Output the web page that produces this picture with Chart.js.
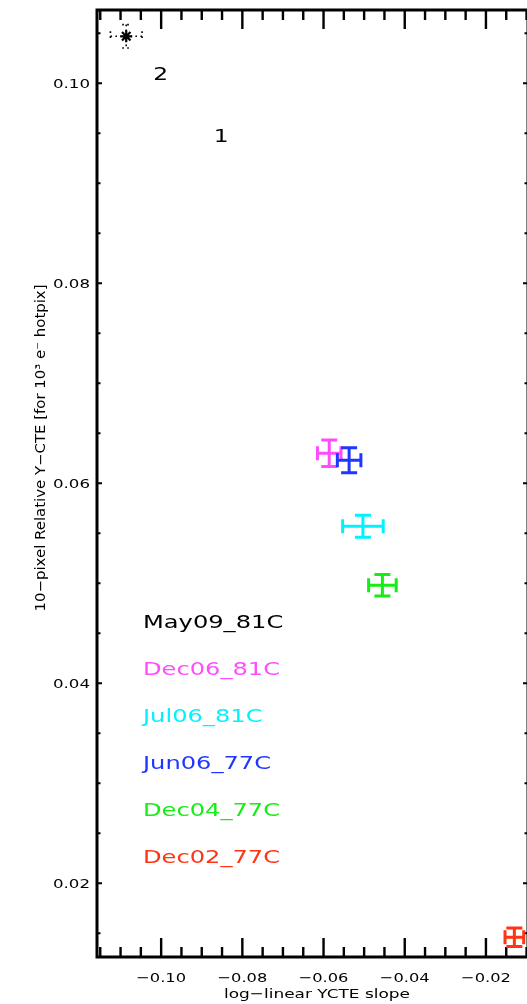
<!DOCTYPE html>
<html>
<head>
<meta charset="utf-8">
<script src="https://cdn.jsdelivr.net/npm/chart.js@4/dist/chart.umd.min.js"></script>
<style>
  html, body { margin: 0; padding: 0; background: #fff; overflow: hidden; }
  #wrap { width: 527px; height: 1004px; overflow: hidden; position: relative; }
  canvas { display: block; }
</style>
</head>
<body>
<div id="wrap"><canvas id="c" width="540" height="1004"></canvas></div>
<script>
// Observing runs: name, colour, slope, relative CTE and their 1-sigma errors
const seriesNames  = ['May09_81C', 'Dec06_81C', 'Jul06_81C', 'Jun06_77C', 'Dec04_77C', 'Dec02_77C'];
const seriesColors = ['#000000', '#ff4cff', '#00f2ff', '#1e36ff', '#14ee14', '#ff3412'];
const slopeX   = [-0.1086, -0.0586, -0.0503, -0.0537, -0.0455, -0.0130];
const relCte   = [0.1047, 0.0630, 0.0557, 0.0623, 0.0498, 0.0146];
const slopeErr = [0.0039, 0.0029, 0.0050, 0.0029, 0.0034, 0.0023];
const cteErr   = [0.00117, 0.00133, 0.0011, 0.00125, 0.00108, 0.00092];

// Axis ticks
const xTickValues = [-0.10, -0.08, -0.06, -0.04, -0.02];
const xTickLabels = ['\u22120.10', '\u22120.08', '\u22120.06', '\u22120.04', '\u22120.02'];
const xMinorTicks = [-0.115, -0.11, -0.105, -0.095, -0.09, -0.085, -0.075, -0.07, -0.065,
                     -0.055, -0.05, -0.045, -0.035, -0.03, -0.025, -0.015, -0.01];
const yTickValues = [0.02, 0.04, 0.06, 0.08, 0.10];
const yTickLabels = ['0.02', '0.04', '0.06', '0.08', '0.10'];
const yMinorTicks = [0.015, 0.025, 0.03, 0.035, 0.045, 0.05, 0.055, 0.065, 0.07, 0.075,
                     0.085, 0.09, 0.095, 0.105];

// Point-number notes next to the May09 point
const noteTexts = ['2', '1'];
const noteX = [-0.1001, -0.0852];
const noteY = [0.10033, 0.09416];

const xTitle = 'log\u2212linear YCTE slope';
const yTitle = '10\u2212pixel Relative Y\u2212CTE [for 10\u00b3 e\u207b hotpix]';

const FONT = '"DejaVu Sans", sans-serif';

function wideText(ctx, text, x, y, size, sx, align, color) {
  ctx.save();
  ctx.font = size + 'px ' + FONT;
  ctx.fillStyle = color || '#000';
  ctx.textBaseline = 'alphabetic';
  ctx.textAlign = align;
  ctx.translate(x, y);
  ctx.scale(sx, 1);
  ctx.fillText(text, 0, 0);
  ctx.restore();
}

// Box frame with inward ticks on all four sides
const framePlugin = {
  id: 'frame',
  beforeDatasetsDraw(chart) {
    const { ctx, chartArea: a, scales: { x, y } } = chart;
    ctx.save();
    ctx.strokeStyle = '#000';
    ctx.lineCap = 'butt';
    // x ticks (long, on bottom and top)
    ctx.lineWidth = 2.4;
    const xt = (v, len) => {
      const px = x.getPixelForValue(v);
      ctx.beginPath();
      ctx.moveTo(px, a.bottom); ctx.lineTo(px, a.bottom - len);
      ctx.moveTo(px, a.top); ctx.lineTo(px, a.top + len);
      ctx.stroke();
    };
    xTickValues.forEach(v => xt(v, 19));
    xMinorTicks.forEach(v => xt(v, 10));
    // y ticks (short, on left and right)
    ctx.lineWidth = 2;
    const yt = (v, len) => {
      const py = y.getPixelForValue(v);
      ctx.beginPath();
      ctx.moveTo(a.left, py); ctx.lineTo(a.left + len, py);
      ctx.moveTo(a.right, py); ctx.lineTo(a.right - len, py);
      ctx.stroke();
    };
    yTickValues.forEach(v => yt(v, 5));
    yMinorTicks.forEach(v => yt(v, 3.5));
    // frame
    ctx.lineWidth = 3;
    ctx.strokeRect(a.left, a.top, a.right - a.left, a.bottom - a.top);
    ctx.restore();

    // tick labels
    xTickValues.forEach((v, i) => wideText(ctx, xTickLabels[i], x.getPixelForValue(v), 981.5, 13, 1.25, 'center'));
    yTickValues.forEach((v, i) => wideText(ctx, yTickLabels[i], 90, y.getPixelForValue(v) + 4.8, 13, 1.28, 'right'));

    // axis titles
    ctx.save();
    ctx.font = '13px ' + FONT;
    const wx = ctx.measureText(xTitle).width;
    ctx.restore();
    wideText(ctx, xTitle, 317, 998, 13, 186 / wx, 'center');

    ctx.save();
    ctx.font = '13.5px ' + FONT;
    const wy = ctx.measureText(yTitle).width;
    ctx.translate(45, 448);
    ctx.rotate(-Math.PI / 2);
    ctx.scale(327 / wy, 1);
    ctx.fillStyle = '#000';
    ctx.textAlign = 'center';
    ctx.textBaseline = 'alphabetic';
    ctx.fillText(yTitle, 0, 0);
    ctx.restore();
  }
};

// Error bars with end caps, one cross per run
const errorBarPlugin = {
  id: 'errorBars',
  afterDatasetsDraw(chart) {
    const { ctx, scales: { x, y } } = chart;
    seriesNames.forEach((name, i) => {
      const cx = x.getPixelForValue(slopeX[i]);
      const cy = y.getPixelForValue(relCte[i]);
      const x0 = x.getPixelForValue(slopeX[i] - slopeErr[i]);
      const x1 = x.getPixelForValue(slopeX[i] + slopeErr[i]);
      const y0 = y.getPixelForValue(relCte[i] + cteErr[i]);
      const y1 = y.getPixelForValue(relCte[i] - cteErr[i]);
      ctx.save();
      ctx.strokeStyle = seriesColors[i];
      let capW = 8, capH = 7;
      if (i === 0) {
        ctx.lineWidth = 1.6;
        ctx.setLineDash([1.6, 3.4]);
        capW = 4; capH = 5;
      } else {
        ctx.lineWidth = 3;
      }
      ctx.beginPath();
      ctx.moveTo(x0, cy); ctx.lineTo(x1, cy);
      ctx.moveTo(cx, y0); ctx.lineTo(cx, y1);
      ctx.moveTo(cx - capW, y0); ctx.lineTo(cx + capW, y0);
      ctx.moveTo(cx - capW, y1); ctx.lineTo(cx + capW, y1);
      ctx.moveTo(x0, cy - capH); ctx.lineTo(x0, cy + capH);
      ctx.moveTo(x1, cy - capH); ctx.lineTo(x1, cy + capH);
      ctx.stroke();
      ctx.restore();
    });
  }
};

// Run names and point numbers
const textPlugin = {
  id: 'texts',
  afterDraw(chart) {
    const { ctx, scales: { x, y } } = chart;
    seriesNames.forEach((name, i) => {
      wideText(ctx, name, 143, 627.5 + i * 47, 17, 1.42, 'left', seriesColors[i]);
    });
    noteTexts.forEach((t, i) => {
      wideText(ctx, t, x.getPixelForValue(noteX[i]), y.getPixelForValue(noteY[i]), 18, 1.3, 'center', '#000');
    });
  }
};

new Chart(document.getElementById('c'), {
  type: 'scatter',
  data: {
    datasets: seriesNames.map((name, i) => ({
      label: name,
      data: [{ x: slopeX[i], y: relCte[i] }],
      borderColor: seriesColors[i],
      backgroundColor: seriesColors[i],
      pointStyle: 'star',
      pointRadius: i === 0 ? 6 : 0,
      pointBorderWidth: 2.2
    }))
  },
  options: {
    responsive: false,
    animation: false,
    devicePixelRatio: 1,
    layout: { padding: { left: 97, right: 12, top: 10, bottom: 47 } },
    plugins: { legend: { display: false }, tooltip: { enabled: false } },
    scales: {
      x: { type: 'linear', min: -0.1158, max: -0.00964, display: false },
      y: { type: 'linear', min: 0.01263, max: 0.10733, display: false }
    }
  },
  plugins: [framePlugin, errorBarPlugin, textPlugin]
});
</script>
</body>
</html>
